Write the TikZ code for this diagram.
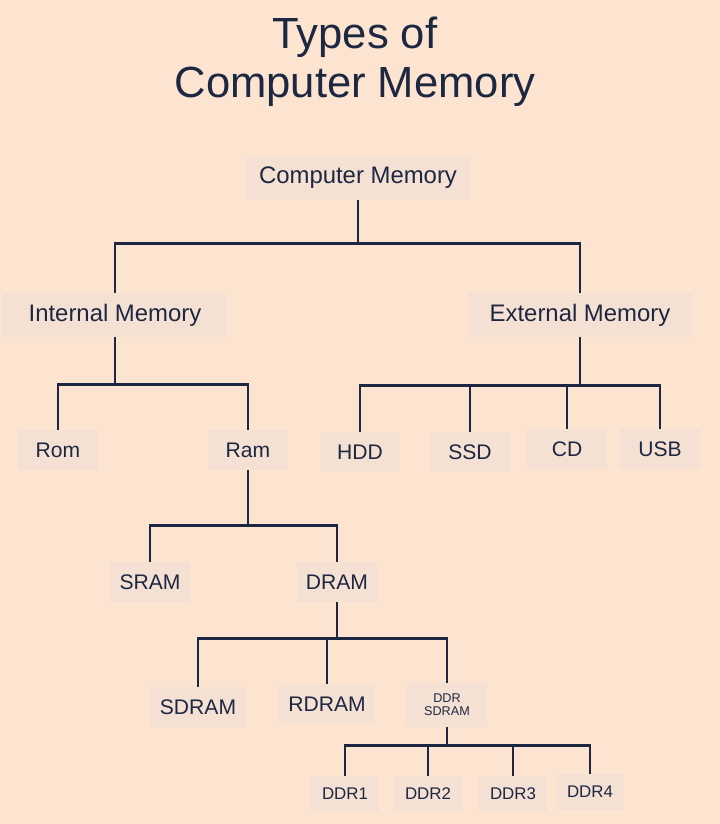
\documentclass[tikz,border=0pt]{standalone}
\usepackage{fontspec}
\setmainfont{Liberation Sans}
\definecolor{peach}{HTML}{FCE4D0}
\definecolor{boxfill}{HTML}{F4E1D4}
\definecolor{navy}{HTML}{1E2741}
\begin{document}
\begin{tikzpicture}[x=0.025cm,y=-0.025cm]

\tikzset{mem/.style = {fill=boxfill, text=navy, minimum height=1.1cm, inner sep=3pt}}
\tikzset{big/.style = {mem, font=\fontsize{17}{20}\selectfont, minimum width=5.6cm}}
\tikzset{mid/.style = {mem, font=\fontsize{15}{18}\selectfont, minimum width=2cm, minimum height=1cm}}
\tikzset{small/.style = {mem, font=\fontsize{12}{14}\selectfont, minimum width=1.7cm, minimum height=0.9cm}}
\tikzset{branch/.style = {draw=navy, line width=2pt,
  to path={(\tikztostart.south) -- ++(0,#1) -| (\tikztotarget)}}}
\fill[peach] (0,0) rectangle (720,824);
% title
\node[text=navy, align=center, font=\fontsize{31}{35}\selectfont] (title) at (355,62) {Types of\\Computer Memory};
% vertices
\node[big] (cm) at (358,178) {Computer Memory};
\node[big] (int) at (115,315) {Internal Memory};
\node[big] (ext) at (580,315) {External Memory};
\node[mid] (rom) at (58,450) {Rom};
\node[mid] (ram) at (248,450) {Ram};
\node[mid] (hdd) at (360,452) {HDD};
\node[mid] (ssd) at (470,452) {SSD};
\node[mid] (cd) at (567,449) {CD};
\node[mid] (usb) at (660,449) {USB};
\node[mid] (sram) at (150,582) {SRAM};
\node[mid] (dram) at (337,582) {DRAM};
\node[mid, minimum width=2.4cm] (sdram) at (198,707) {SDRAM};
\node[mid, minimum width=2.4cm] (rdram) at (327,704) {RDRAM};
\node[mem, align=center, font=\fontsize{9}{9}\selectfont, minimum width=2cm] (ddrs) at (447,705) {DDR\\SDRAM};
\node[small] (d1) at (345,794) {DDR1};
\node[small] (d2) at (428,794) {DDR2};
\node[small] (d3) at (513,794) {DDR3};
\node[small] (d4) at (590,792) {DDR4};
%edges
\foreach \c in {int, ext} \path (cm) edge[branch=43] (\c);
\foreach \c in {rom, ram} \path (int) edge[branch=47] (\c);
\foreach \c in {hdd, ssd, cd, usb} \path (ext) edge[branch=48] (\c);
\foreach \c in {sram, dram} \path (ram) edge[branch=55] (\c);
\foreach \c in {sdram, rdram, ddrs} \path (dram) edge[branch=36] (\c);
\foreach \c in {d1, d2, d3, d4} \path (ddrs) edge[branch=18] (\c);
\end{tikzpicture}
\end{document}
